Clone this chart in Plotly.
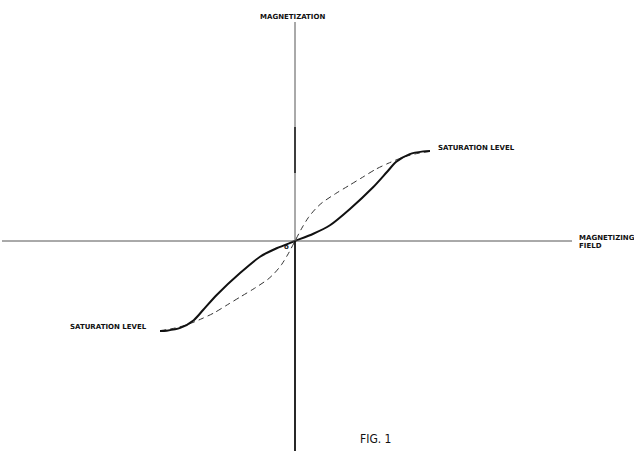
import plotly.graph_objects as go

# Magnetizing field H (normalised) and magnetization M (normalised to saturation)
solid_H = [-1.00, -0.95, -0.85, -0.75, -0.681, -0.580, -0.407, -0.259, -0.136, 0.0,
           0.136, 0.259, 0.407, 0.580, 0.681, 0.75, 0.85, 0.95, 1.00]
solid_M = [-0.99, -0.985, -0.955, -0.87, -0.758, -0.593, -0.352, -0.173, -0.080, 0.0,
           0.080, 0.173, 0.352, 0.593, 0.758, 0.87, 0.955, 0.985, 0.99]

dash_H = [-1.0, -0.9, -0.8, -0.7, -0.6, -0.5, -0.4, -0.3, -0.2, -0.15, -0.1, -0.05, 0.0,
          0.05, 0.1, 0.15, 0.2, 0.3, 0.4, 0.5, 0.6, 0.7, 0.8, 0.9, 1.0]
dash_M = [-0.985, -0.96, -0.92, -0.86, -0.79, -0.70, -0.61, -0.52, -0.42, -0.35, -0.26, -0.14, 0.0,
          0.14, 0.26, 0.35, 0.42, 0.52, 0.61, 0.70, 0.79, 0.86, 0.92, 0.96, 0.985]

W, H = 634, 451
ox, oy = 295, 241        # origin in pixels
sx, sy = 135.0, 91.0     # pixels per unit

xr = [-ox / sx, (W - ox) / sx]
yr = [-(H - oy) / sy, oy / sy]

def px(x):
    return (x - ox) / sx

def py(y):
    return (oy - y) / sy

fig = go.Figure()

fig.add_trace(go.Scatter(x=dash_H, y=dash_M, mode="lines",
                         line=dict(color="#333333", width=1, dash="6px,4px", shape="spline", smoothing=0.8),
                         hoverinfo="skip"))
fig.add_trace(go.Scatter(x=solid_H, y=solid_M, mode="lines",
                         line=dict(color="#111111", width=2, shape="spline", smoothing=0.8),
                         hoverinfo="skip"))

shapes = [
    # horizontal axis
    dict(type="line", x0=px(2), x1=px(572), y0=0, y1=0, line=dict(color="#555555", width=1)),
    # vertical axis upper
    dict(type="line", x0=0, x1=0, y0=py(22), y1=0, line=dict(color="#555555", width=1)),
    dict(type="line", x0=0, x1=0, y0=py(127), y1=py(173), line=dict(color="#222222", width=1.6)),
    # vertical axis lower (heavier)
    dict(type="line", x0=0, x1=0, y0=0, y1=py(451), line=dict(color="#111111", width=1.8)),
]

font_small = dict(family="DejaVu Sans", size=7, color="#111111")
ann = [
    dict(x=px(292), y=py(17), text="<b>MAGNETIZATION</b>", xanchor="center", yanchor="middle"),
    dict(x=px(436), y=py(148), text="<b>SATURATION LEVEL</b>", xanchor="left", yanchor="middle"),
    dict(x=px(149), y=py(327), text="<b>SATURATION LEVEL</b>", xanchor="right", yanchor="middle"),
    dict(x=px(577), y=py(238), text="<b>MAGNETIZING</b>", xanchor="left", yanchor="middle"),
    dict(x=px(577), y=py(246), text="<b>FIELD</b>", xanchor="left", yanchor="middle"),
    dict(x=px(286), y=py(247), text="<b>o</b>", xanchor="center", yanchor="middle"),
]
annotations = [dict(a, showarrow=False, font=font_small) for a in ann]
annotations.append(dict(x=px(375), y=py(439), text="FIG. 1", showarrow=False,
                        xanchor="center", yanchor="middle",
                        font=dict(family="DejaVu Sans Condensed", size=12, color="#111111")))

fig.update_layout(
    width=W, height=H,
    margin=dict(l=0, r=0, t=0, b=0),
    paper_bgcolor="white", plot_bgcolor="white",
    showlegend=False,
    xaxis=dict(range=xr, visible=False, fixedrange=True),
    yaxis=dict(range=yr, visible=False, fixedrange=True),
    shapes=shapes,
    annotations=annotations,
)

fig.write_html("out.html", config={"displayModeBar": False},
               post_script="document.body.style.margin='0px';document.body.style.overflow='hidden';")
